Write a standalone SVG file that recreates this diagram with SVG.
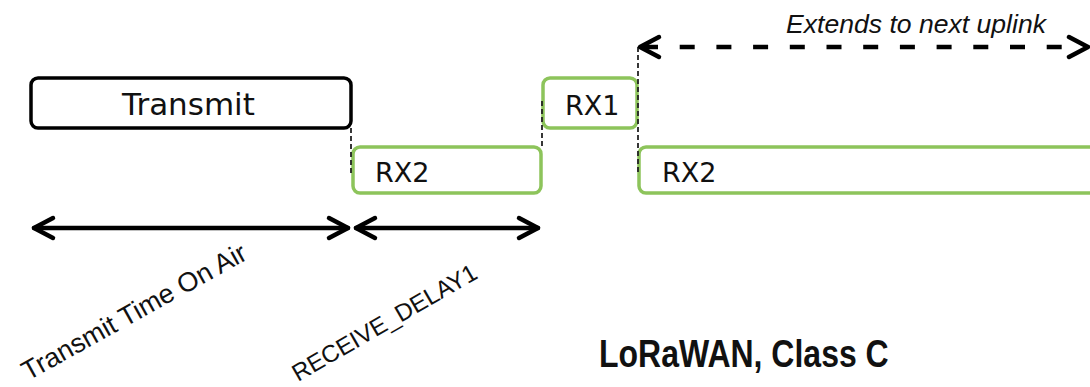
<svg xmlns="http://www.w3.org/2000/svg" width="1090" height="387" viewBox="0 0 1090 387">
<style>
.bg{fill:#ffffff}
.box{fill:#ffffff;stroke-width:3.5}
.tx{stroke:#000000}
.rx{stroke:#8dc45b}
.lbl{font-family:"DejaVu Sans","Liberation Sans",sans-serif;fill:#111111}
.guide{fill:none;stroke:#222222;stroke-width:1.8;stroke-dasharray:5 3}
.arr{fill:none;stroke:#000000;stroke-width:4.5;stroke-linecap:round;stroke-linejoin:round}
.rot{font-family:"Liberation Sans",Arial,sans-serif;fill:#111111}
</style>
<rect class="bg" x="0" y="0" width="1090" height="387"/>
<g id="transmit">
<rect class="box tx" x="31" y="78" width="320" height="50" rx="7"/>
<text class="lbl" x="122" y="115" font-size="31">Transmit</text>
</g>
<g id="rx2-first">
<rect class="box rx" x="353" y="147" width="188" height="46" rx="7"/>
<text class="lbl" x="375" y="182" font-size="27">RX2</text>
</g>
<g id="rx1">
<rect class="box rx" x="543" y="78" width="94" height="50" rx="7"/>
<text class="lbl" x="565" y="115" font-size="27">RX1</text>
</g>
<g id="rx2-second">
<rect class="box rx" x="639" y="147" width="480" height="46" rx="7"/>
<text class="lbl" x="662" y="182" font-size="27">RX2</text>
</g>
<g id="connectors">
<line class="guide" x1="351" y1="128" x2="351" y2="174"/>
<line class="guide" x1="542" y1="101" x2="542" y2="148"/>
<line class="guide" x1="638" y1="47" x2="638" y2="172"/>
<line x1="643" y1="47" x2="1084" y2="47" stroke="#000000" stroke-width="4.5" stroke-dasharray="15 21.7"/>
<polyline class="arr" points="659,37 640,47 659,57"/>
<polyline class="arr" points="1069,37 1088,47 1069,57"/>
<line class="arr" x1="34" y1="228" x2="348" y2="228"/>
<polyline class="arr" points="53,218 34,228 53,238"/>
<polyline class="arr" points="329,218 348,228 329,238"/>
<line class="arr" x1="356" y1="228" x2="538" y2="228"/>
<polyline class="arr" points="375,218 356,228 375,238"/>
<polyline class="arr" points="519,218 538,228 519,238"/>
</g>
<g id="labels">
<text class="rot" font-style="italic" x="786" y="33" font-size="25" textLength="260" lengthAdjust="spacingAndGlyphs">Extends to next uplink</text>
<text class="rot" transform="translate(28,381) rotate(-29)" font-size="27">Transmit Time On Air</text>
<text class="rot" transform="translate(298,382) rotate(-30)" font-size="24">RECEIVE_DELAY1</text>
<text class="rot" font-weight="bold" transform="translate(599,367) scale(1,1.2)" font-size="32">LoRaWAN, Class C</text>
</g>
</svg>
